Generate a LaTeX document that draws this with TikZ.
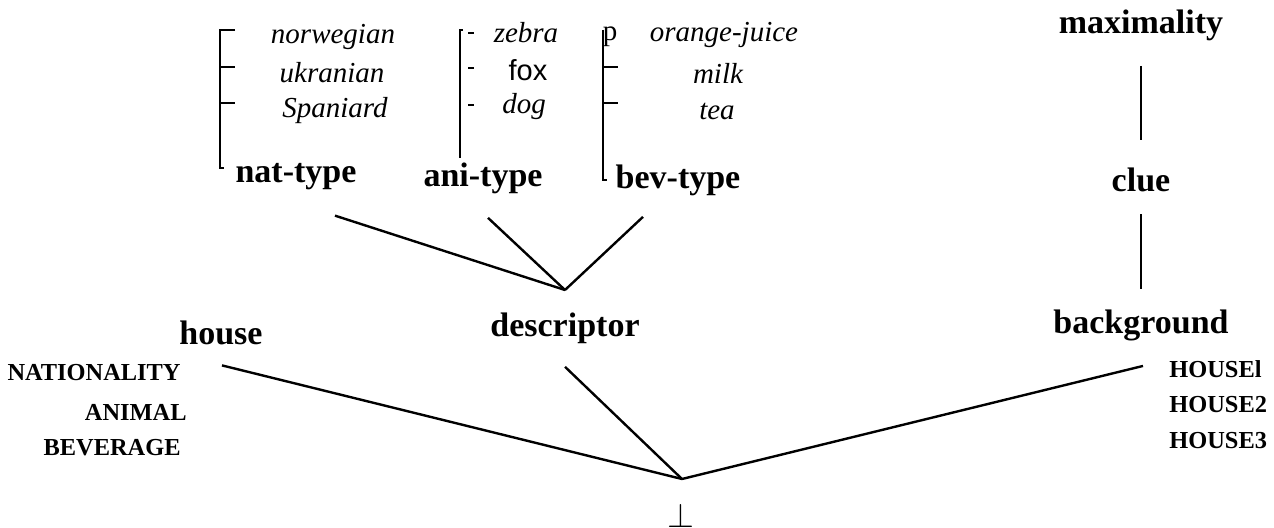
\documentclass[tikz,border=0pt]{standalone}
\usepackage{fontspec}
\setmainfont{Liberation Serif}
\newfontfamily\foxfont{Liberation Sans}

\begin{document}
\begin{tikzpicture}[
        x=0.5pt, y=-0.5pt, % one unit = one pixel of the sheet
        typ/.style = {font=\fontsize{17}{20}\selectfont\bfseries, inner sep=1pt}, % type names
        item/.style = {font=\fontsize{14.5}{17}\selectfont\itshape, inner sep=1pt}, % values
        slot/.style = {font=\fontsize{12.2}{15}\selectfont\bfseries, inner sep=1pt}, % features
        link/.style = {draw, line width=1.2pt},
        rule/.style = {draw, line width=1pt},
        tick/.style = {draw, line width=1.4pt},
    ]
    \useasboundingbox (0,0) rectangle (1274,528);

    % types above descriptor
    \node[typ] (nat) at (296,177) {nat-type};
    \node[typ] (ani) at (483,178) {ani-type};
    \node[typ] (bev) at (678,180) {bev-type};

    \node[item] (norwegian) at (333,37) {norwegian};
    \node[item] (ukranian) at (332,73) {ukranian};
    \node[item] (spaniard) at (335,111) {Spaniard};
    \node[item] (zebra) at (526,33) {zebra};
    \node[item, font=\fontsize{14.5}{17}\selectfont\foxfont] (fox) at (528,70) {fox};
    \node[item] (dog) at (524,107) {dog};
    \node[item, font=\fontsize{14.5}{17}\selectfont] (p) at (610,37) {p};
    \node[item] (orange) at (724,35) {orange-juice};
    \node[item] (milk) at (718,73) {milk};
    \node[item] (tea) at (717,111) {tea};

    % brackets
    \draw[rule] (235,30) -- (220,30) -- (220,168) -- (224,168);
    \draw[tick] (220,67) -- (235,67);
    \draw[tick] (220,103) -- (235,103);
    \draw[rule] (463,30) -- (460,30) -- (460,158);
    \foreach \y in {33,68,105}
        \draw[tick] (468,\y) -- (474,\y);
    \draw[rule] (603,30) -- (603,180) -- (607,180);
    \draw[tick] (603,67) -- (618,67);
    \draw[tick] (603,103) -- (618,103);

    % middle row
    \node[typ] (desc) at (565,328) {descriptor};
    \node[typ] (house) at (221,333) {house};
    \node[typ] (maxi) at (1141,25) {maximality};
    \node[typ] (clue) at (1141,180) {clue};
    \node[typ] (bg) at (1141,325) {background};

    \node[slot, anchor=east] (nationality) at (183,373) {NATIONALITY};
    \node[slot, anchor=east] (animal) at (189,412) {ANIMAL};
    \node[slot, anchor=east] (beverage) at (183,448) {BEVERAGE};
    \node[slot, anchor=west] (house1) at (1167,369) {HOUSEl};
    \node[slot, anchor=west] (house2) at (1167,405) {HOUSE2};
    \node[slot, anchor=west] (house3) at (1167,441) {HOUSE3};

    \node[font=\fontsize{17}{19}\selectfont, inner sep=0pt] (bot) at (681,516) {$\bot$};

    \coordinate (dj) at (565,290);
    \coordinate (bj) at (682,479);

    % connectors
    \draw[link] ([shift={(39,23)}]nat.south) -- (dj);
    \draw[link] ([shift={(5,22)}]ani.south) -- (dj);
    \draw[link] ([shift={(-35,19)}]bev.south) -- (dj);
    \draw[link] ([shift={(1,18)}]house.south) -- (bj);
    \draw[link] ([shift={(0,21)}]desc.south) -- (bj);
    \draw[link] ([shift={(2,23)}]bg.south) -- (bj);
    \draw[link] ([shift={(0,23)}]maxi.south) -- ([shift={(0,-26)}]clue.north);
    \draw[link] ([shift={(0,20)}]clue.south) -- ([shift={(0,-18)}]bg.north);

\end{tikzpicture}
\end{document}
